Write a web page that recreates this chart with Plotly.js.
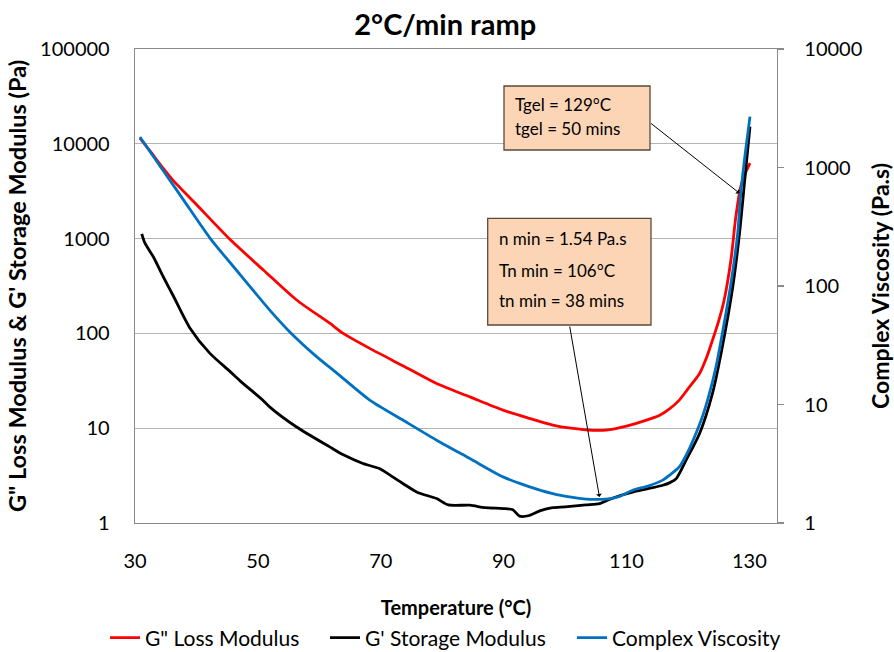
<!DOCTYPE html>
<html>
<head>
<meta charset="utf-8">
<script src="https://cdn.plot.ly/plotly-3.0.1.min.js"></script>
<style>html,body{margin:0;padding:0;background:#fff;}#chart{width:894px;height:652px;}</style>
</head>
<body>
<div id="chart"></div>
<script>
// G'' Loss Modulus (Pa), left axis
const lossT = [30.8, 32.5, 34.6, 36.2, 40, 45.4, 50.9, 56.3, 61.7, 63.9, 68.2, 73.6, 79.1, 84.5, 89.9, 94, 98, 101, 104.5, 107, 110, 113, 115.4, 117, 118.6, 120, 121.9, 123, 124, 125, 125.9, 127, 127.8, 128.6, 129.3, 130.1];
const lossG = [11460, 8300, 5500, 4120, 2290, 990, 466, 225, 128, 100, 69.5, 45.6, 29.6, 21.4, 15.5, 12.8, 10.8, 10.0, 9.5, 9.6, 10.5, 12, 13.7, 16, 19.8, 26, 37.8, 55, 85, 135, 225, 594, 1703, 3530, 4800, 6240];

// G' Storage Modulus (Pa), left axis
const storT = [31.1, 31.6, 33.0, 34.6, 36.2, 38.9, 42.2, 45.4, 47.1, 50.9, 52.0, 56.3, 61.7, 64, 67.1, 69.8, 71.5, 73.6, 76, 79.1, 81, 84.5, 87, 89.9, 91.5, 92.6, 94.2, 96, 98, 100, 103.4, 105.6, 107.2, 109, 111, 113.5, 115.9, 117, 118.1, 119.7, 121.9, 124, 125.6, 127.3, 128.4, 129.2, 130.1];
const storG = [1119, 900, 640, 396, 251, 115, 61.5, 40, 31.6, 19.5, 16.6, 10.3, 6.35, 5.2, 4.24, 3.75, 3.2, 2.61, 2.1, 1.81, 1.55, 1.54, 1.45, 1.42, 1.38, 1.18, 1.2, 1.35, 1.45, 1.48, 1.55, 1.6, 1.77, 1.95, 2.12, 2.3, 2.5, 2.65, 2.94, 4.6, 8.8, 23.3, 72, 310, 1138, 3840, 15200];

// Complex Viscosity (Pa.s), right axis
const viscT = [30.8, 34.6, 38, 42.2, 47.1, 52, 55.2, 59.5, 62.8, 68.2, 73.6, 79.1, 84.5, 89.9, 94, 98, 101, 103, 105, 107, 108.9, 111, 113.5, 115.9, 117.3, 118.6, 120, 121.3, 122.5, 123.5, 124.5, 125.6, 127, 128.1, 128.6, 129.4, 130.1];
const viscEta = [1810, 940, 523, 254, 125, 62, 41, 25.5, 18.5, 10.9, 7.4, 5.0, 3.5, 2.45, 2.04, 1.77, 1.65, 1.6, 1.58, 1.6, 1.68, 1.89, 2.05, 2.30, 2.6, 2.97, 4.0, 5.69, 8.3, 12.4, 20, 39.8, 105, 278, 605, 1406, 2686];

const xTicks = [30, 50, 70, 90, 110, 130];
const leftTicks = [1, 10, 100, 1000, 10000, 100000];
const rightTicks = [1, 10, 100, 1000, 10000];

const FONT = 'Lato, "Open Sans", sans-serif';
const names = ['G" Loss Modulus', "G' Storage Modulus", 'Complex Viscosity'];

const lineStyle = c => ({color: c, width: 2.8, shape: 'spline', smoothing: 0.7});
const traces = [
  {x: lossT, y: lossG, name: names[0], legend: 'legend', type: 'scatter', mode: 'lines', line: lineStyle('#FF0000'), yaxis: 'y'},
  {x: storT, y: storG, name: names[1], legend: 'legend2', type: 'scatter', mode: 'lines', line: lineStyle('#000000'), yaxis: 'y'},
  {x: viscT, y: viscEta, name: names[2], legend: 'legend3', type: 'scatter', mode: 'lines', line: lineStyle('#0070C0'), yaxis: 'y2'}
];

const px2x = p => (p - 135) / 642;
const px2y = p => (523 - p) / 474;

const boxFill = '#FBD5B5';
const boxLine = '#5a4a3a';
const boldFont = s => ({size: s, family: FONT, weight: 'bold', color: '#000'});
const legendAt = px => ({orientation: 'h', x: px2x(px), xanchor: 'left', y: px2y(638), yanchor: 'middle', font: {size: 21, family: FONT}, itemwidth: 30, bgcolor: 'rgba(0,0,0,0)', borderwidth: 0});

const layout = {
  width: 894, height: 652,
  margin: {l: 135, r: 117, t: 49, b: 129, autoexpand: false},
  paper_bgcolor: '#fff', plot_bgcolor: '#fff',
  font: {family: FONT, color: '#000'},
  title: {text: '<b>2°C/min ramp</b>', x: 0.498, xref: 'container', y: 0.962, yanchor: 'middle', font: boldFont(29)},
  showlegend: true,
  legend: legendAt(105),
  legend2: legendAt(325),
  legend3: legendAt(572),
  xaxis: {
    automargin: false,
    range: [30, 134.5], tickvals: xTicks, ticktext: xTicks.map(String),
    showgrid: false, zeroline: false, showline: true, linecolor: '#8a8a8a', linewidth: 1.3, mirror: true,
    ticks: 'outside', ticklen: 20, tickcolor: 'rgba(0,0,0,0)',
    tickfont: {size: 20, family: FONT},
    title: {text: '<b>Temperature (°C)</b>', font: boldFont(20), standoff: 29}
  },
  yaxis: {
    automargin: false,
    type: 'log', range: [0, 5], tickvals: leftTicks, ticktext: leftTicks.map(String),
    showgrid: true, gridcolor: '#b4b4b4', gridwidth: 1.3, zeroline: false,
    showline: true, linecolor: '#8a8a8a', linewidth: 1.3,
    ticks: 'outside', ticklen: 20, tickcolor: 'rgba(0,0,0,0)',
    tickfont: {size: 20, family: FONT},
    title: {text: '<b>G" Loss Modulus &amp; G\' Storage Modulus (Pa)</b>', font: boldFont(23.5), standoff: 7}
  },
  yaxis2: {
    automargin: false,
    type: 'log', range: [0, 4], overlaying: 'y', side: 'right', tickvals: rightTicks, ticktext: rightTicks.map(String),
    showgrid: false, zeroline: false, showline: true, linecolor: '#8a8a8a', linewidth: 1.3,
    ticks: 'outside', ticklen: 6, tickcolor: '#8a8a8a', tickwidth: 1.3,
    ticklabelstandoff: 16,
    tickfont: {size: 20, family: FONT},
    title: {text: '<b>Complex Viscosity (Pa.s)</b>', font: boldFont(23), standoff: 12}
  },
  shapes: [
    {type: 'rect', xref: 'paper', yref: 'paper', x0: px2x(504), x1: px2x(650), y0: px2y(150), y1: px2y(86), fillcolor: boxFill, line: {color: boxLine, width: 1.3}, layer: 'above'},
    {type: 'rect', xref: 'paper', yref: 'paper', x0: px2x(487.7), x1: px2x(651), y0: px2y(325), y1: px2y(218.3), fillcolor: boxFill, line: {color: boxLine, width: 1.3}, layer: 'above'}
  ],
  annotations: [
    {xref: 'paper', yref: 'paper', x: px2x(513), y: px2y(104.3), xanchor: 'left', yanchor: 'middle', text: 'Tgel = 129°C', showarrow: false, font: {size: 17, family: FONT}},
    {xref: 'paper', yref: 'paper', x: px2x(513), y: px2y(128.3), xanchor: 'left', yanchor: 'middle', text: 'tgel = 50 mins', showarrow: false, font: {size: 17, family: FONT}},
    {xref: 'paper', yref: 'paper', x: px2x(496.5), y: px2y(238.3), xanchor: 'left', yanchor: 'middle', text: 'n min = 1.54 Pa.s', showarrow: false, font: {size: 17, family: FONT}},
    {xref: 'paper', yref: 'paper', x: px2x(496.5), y: px2y(270), xanchor: 'left', yanchor: 'middle', text: 'Tn min = 106°C', showarrow: false, font: {size: 17, family: FONT}},
    {xref: 'paper', yref: 'paper', x: px2x(496.5), y: px2y(300), xanchor: 'left', yanchor: 'middle', text: 'tn min = 38 mins', showarrow: false, font: {size: 17, family: FONT}},
    {xref: 'x', yref: 'y', x: 128.4, y: Math.log10(3008), text: '', showarrow: true, arrowhead: 1, arrowsize: 1, arrowwidth: 1, arrowcolor: '#000', ax: -90, ay: -71, font: {size: 1}},
    {xref: 'x', yref: 'y', x: 105.6, y: Math.log10(1.88), text: '', showarrow: true, arrowhead: 1, arrowsize: 1, arrowwidth: 1, arrowcolor: '#000', ax: -30, ay: -172, font: {size: 1}}
  ]
};

Plotly.newPlot('chart', traces, layout, {displayModeBar: false, staticPlot: true});
</script>
</body>
</html>
